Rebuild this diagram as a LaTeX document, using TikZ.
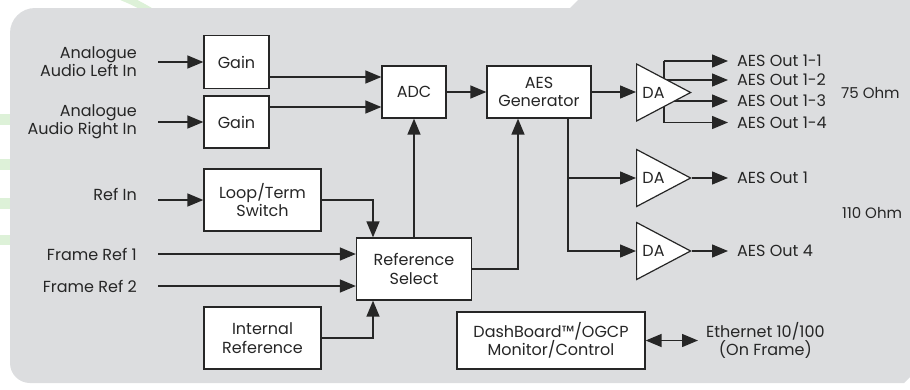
\documentclass[tikz,border=0pt]{standalone}
\usepackage{fontspec}
\setmainfont{Poppins}
\usetikzlibrary{arrows.meta,shapes.geometric}
\definecolor{panel}{HTML}{DCDDDF}
\definecolor{ink}{HTML}{262626}
\definecolor{deco}{HTML}{DDF1D8}
\pgfdeclarelayer{bg}\pgfdeclarelayer{ln}\pgfsetlayers{bg,ln,main}
\begin{document}
\begin{tikzpicture}[x=1pt,y=-1pt,
  every node/.style={text=ink},
  txt/.style={inner sep=0pt, font=\fontsize{16}{18}\selectfont},
  sm/.style={inner sep=0pt, font=\fontsize{15}{16}\selectfont},
  blk/.style={draw=ink, fill=white, line width=1.3pt, align=center, font=\fontsize{16}{18.5}\selectfont, inner sep=0pt},
  tri/.style={isosceles triangle, isosceles triangle stretches, shape border rotate=0, draw=ink, fill=white, line width=1.2pt, minimum width=57pt, minimum height=54pt, inner sep=0pt, anchor=west},
  wire/.style={draw=ink, line width=1.45pt},
  arr/.style={wire, -{Triangle[length=16pt,width=13pt]}},
  darr/.style={wire, {Triangle[length=16pt,width=13pt]}-{Triangle[length=16pt,width=13pt]}}
]
\useasboundingbox (0,0) rectangle (910,389);
\begin{pgfonlayer}{bg}
\draw[deco, line width=7pt] (122,-3) .. controls (132,1) and (140,5) .. (150,11);
\fill[deco] (0,114) rectangle (10,125);
\fill[deco] (0,159) rectangle (10,170);
\fill[deco] (0,198) rectangle (10,209);
\fill[deco] (0,235) rectangle (10,245);
\fill[panel] (35,8) -- (570,8) -- (578,0) -- (910,0) -- (910,377) -- (904,383) -- (30,383)
  arc[start angle=270,end angle=180,radius=20pt] -- (10,33)
  arc[start angle=180,end angle=90,radius=25pt] -- cycle;
\end{pgfonlayer}

% blocks
\node[blk, minimum width=65pt, minimum height=53pt] (gain1) at (236.5,62) {Gain};
\node[blk, minimum width=65pt, minimum height=52pt] (gain2) at (236.5,122) {Gain};
\node[blk, minimum width=64pt, minimum height=52pt] (adc) at (414,92) {ADC};
\node[blk, minimum width=117pt, minimum height=62pt] (loop) at (262.5,200) {Loop/Term\\Switch};
\node[blk, minimum width=115pt, minimum height=62pt] (refsel) at (414,269) {Reference\\Select};
\node[blk, minimum width=117pt, minimum height=62pt] (intref) at (262.5,338) {Internal\\Reference};
\node[blk, minimum width=104pt, minimum height=52pt] (aesgen) at (539,92) {AES\\Generator};
\node[blk, minimum width=188pt, minimum height=57pt] (dash) at (551,340.5) {DashBoard™/OGCP\\Monitor/Control};

% distribution amplifiers
\node[tri] (da1) at (636,92.5) {};
\node[tri] (da2) at (636,178) {};
\node[tri] (da3) at (636,251) {};
\node[txt] (da1t) at ([xshift=17.5pt]da1.west) {DA};
\node[txt] (da2t) at ([xshift=17.5pt]da2.west) {DA};
\node[txt] (da3t) at ([xshift=17.5pt]da3.west) {DA};

% input labels
\node[txt, anchor=east, align=right] (lL) at (137,62) {Analogue\\Audio Left In};
\node[txt, anchor=east, align=right] (lR) at (137,122) {Analogue\\Audio Right In};
\node[txt, anchor=east] (lRef) at (137,194) {Ref In};
\node[txt, anchor=east] (lF1) at (137,254) {Frame Ref 1};
\node[txt, anchor=east] (lF2) at (137,286) {Frame Ref 2};

% output labels
\node[txt, anchor=west] (o11) at (737,61) {AES Out 1-1};
\node[txt, anchor=west] (o12) at (737,80) {AES Out 1-2};
\node[txt, anchor=west] (o13) at (737,101) {AES Out 1-3};
\node[txt, anchor=west] (o14) at (737,122.5) {AES Out 1-4};
\node[txt, anchor=west] (o1) at (737,178) {AES Out 1};
\node[txt, anchor=west] (o4) at (737,251) {AES Out 4};
\node[sm, anchor=west] (ohm75) at (841,93) {75 Ohm};
\node[sm, anchor=west] (ohm110) at (842,213) {110 Ohm};
\node[txt, anchor=west, align=center] (eth) at (706,340.5) {Ethernet 10/100\\(On Frame)};

% connectors
\draw[arr] ([xshift=21pt]lL.east |- gain1.west) -- (gain1.west);
\draw[arr] ([xshift=21pt]lR.east |- gain2.west) -- (gain2.west);
\draw[arr] ([xshift=21pt]lRef.east |- loop.west) -- (loop.west);
\draw[arr] ([xshift=21pt]lF1.east) -- (lF1.east -| refsel.west);
\draw[arr] ([xshift=21pt]lF2.east) -- (lF2.east -| refsel.west);
\draw[arr] ([yshift=-15pt]gain1.east) -- ([yshift=-15pt]gain1.east -| adc.west);
\draw[arr] ([yshift=15pt]gain2.east) -- ([yshift=15pt]gain2.east -| adc.west);
\draw[arr] (adc.east) -- (aesgen.west);
\draw[arr] (aesgen.east) -- (aesgen.east -| da1.west);
\draw[arr] (refsel.north) -- (adc.south);
\draw[arr] (loop.east) -| ([xshift=-41pt]refsel.north);
\draw[arr] (intref.east) -| ([xshift=-41pt]refsel.south);
\draw[arr] (refsel.east) -| ([xshift=-21pt]aesgen.south);
\coordinate (tap2) at ([xshift=29pt]aesgen.south);
\draw[arr] (tap2) |- (da3.west);
\draw[arr] (tap2 |- da2.west) -- (da2.west);
\draw[arr] (da2.east) -- ([xshift=-9pt]o1.west);
\draw[arr] (da3.east) -- ([xshift=-9pt]o4.west);
\draw[darr] (dash.east) -- ([xshift=-8pt]eth.west);
\coordinate (tap1) at (664,92);
\begin{pgfonlayer}{ln}
\draw[wire] (tap1 |- o11.west) -- (tap1 |- o14.west);
\draw[arr] (tap1 |- o11.west) -- ([xshift=-9pt]o11.west);
\draw[arr] (tap1 |- o12.west) -- ([xshift=-9pt]o12.west);
\draw[arr] (tap1 |- o13.west) -- ([xshift=-9pt]o13.west);
\draw[arr] (tap1 |- o14.west) -- ([xshift=-9pt]o14.west);
\end{pgfonlayer}
\end{tikzpicture}
\end{document}
